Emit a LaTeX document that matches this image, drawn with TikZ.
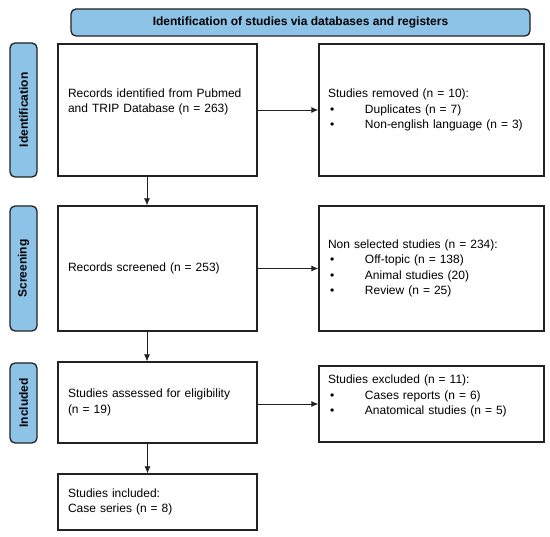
\documentclass[tikz,border=0pt]{standalone}
\usepackage{fontspec}
\setmainfont{Liberation Sans}
\usetikzlibrary{arrows.meta}
\definecolor{prblue}{HTML}{8EC3E8}
\definecolor{prline}{HTML}{222222}
\newcommand{\pritem}[1]{\makebox[37pt][l]{\hspace{2pt}\textbullet}#1}
\tikzset{
  headbox/.style={draw=prline, line width=1.3pt, fill=prblue, rounded corners=5pt, minimum width=459pt, minimum height=27pt, inner sep=1pt, font=\fontsize{12}{14}\selectfont\bfseries},
  sidebox/.style={draw=prline, line width=1.3pt, fill=prblue, rounded corners=5pt, rotate=90, minimum height=27pt, inner sep=1pt, font=\fontsize{12}{14}\selectfont\bfseries},
  mainbox/.style={draw=prline, line width=1.3pt, fill=white, text width=179pt, inner xsep=10pt, inner ysep=2pt, align=left, font=\fontsize{12}{15.5}\selectfont},
  sidenote/.style={draw=prline, line width=1.3pt, fill=white, text width=207pt, inner xsep=9pt, inner ysep=2pt, align=left, font=\fontsize{12}{15.5}\selectfont},
  flow/.style={draw=prline, line width=0.8pt, -{Latex[length=7pt,width=6pt]}}
}
\begin{document}
\begin{tikzpicture}[x=1pt, y=-1pt]
  \useasboundingbox (0,0) rectangle (550,537);
  \node[headbox] (head) at (300.5,22.5) {Identification of studies via databases and registers};
  \node[sidebox, minimum width=134pt] (sideid) at (23.5,110) {Identification};
  \node[sidebox, minimum width=125pt] (sidescr) at (23.5,268.5) {Screening};
  \node[sidebox, minimum width=80pt] (sideinc) at (23.5,403) {Included};
  \node[mainbox, minimum height=132pt] (recid) at (157.5,110) {Records identified from Pubmed\\and TRIP Database (n = 263)\rule[-19pt]{0pt}{1pt}};
  \node[mainbox, minimum height=125pt] (recscr) at (157.5,268.5) {Records screened (n = 253)};
  \node[mainbox, minimum height=81pt] (assess) at (157.5,402.5) {Studies assessed for eligibility\\(n = 19)};
  \node[mainbox, minimum height=56pt] (incl) at (157.5,502) {Studies included:\\Case series (n = 8)};
  \node[sidenote, minimum height=132pt] (removed) at (431.5,110) {Studies removed (n = 10):\\\pritem{Duplicates (n = 7)}\\\pritem{Non-english language (n = 3)}};
  \node[sidenote, minimum height=125pt] (nonsel) at (431.5,268.5) {Non selected studies (n = 234):\\\pritem{Off-topic (n = 138)}\\\pritem{Animal studies (20)}\\\pritem{Review (n = 25)}};
  \node[sidenote, minimum height=76pt] (excl) at (431.5,404) {Studies excluded (n = 11):\\\pritem{Cases reports (n = 6)}\\\pritem{Anatomical studies (n = 5)}\rule[-18pt]{0pt}{1pt}};
  \draw[flow] ([xshift=-10.5pt]recid.south) -- ([xshift=-10.5pt]recscr.north);
  \draw[flow] ([xshift=-10.5pt]recscr.south) -- ([xshift=-10.5pt]assess.north);
  \draw[flow] ([xshift=-10pt]assess.south) -- ([xshift=-10pt]incl.north);
  \draw[flow] (recid) -- (removed);
  \draw[flow] (recscr) -- (nonsel);
  \draw[flow] (assess.east |- excl.west) -- (excl.west);
\end{tikzpicture}
\end{document}
